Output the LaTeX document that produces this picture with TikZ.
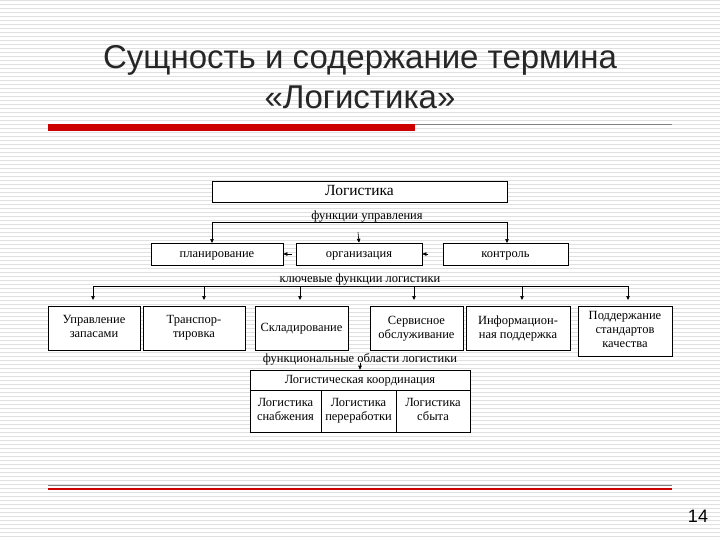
\documentclass[tikz,border=0pt]{standalone}
\usepackage{fontspec}
\setmainfont{Liberation Serif}
\newfontfamily\titlefont{Liberation Sans}
\usetikzlibrary{arrows.meta}
\begin{document}
\begin{tikzpicture}[x=1pt,y=-1pt,
  bx/.style={draw,fill=white,line width=0.6pt,inner sep=0pt},
  txt/.style={align=center,inner sep=0pt,yshift=-1pt,font=\fontsize{12.5}{14}\selectfont,execute at begin node=\strut,execute at end node=\strut},
  lbl/.style={font=\fontsize{12.5}{13}\selectfont,inner sep=1pt,yshift=-2pt},
  ar/.style={-{Triangle[length=4pt,width=3.5pt]},line width=0.6pt}]
\useasboundingbox (0,0) rectangle (720,540);
\fill[white] (0,0) rectangle (720,540);
\foreach \y in {0,4,...,540} \draw[black!12,line width=0.5pt] (0,\y) -- (720,\y);
\node[font=\titlefont\fontsize{33}{40}\selectfont,align=center,text=black!85] (title) at (360,77) {Сущность и содержание термина\\«Логистика»};
\draw[gray,line width=0.7pt] (48,124) -- (672,124);
\fill[red!80!black] (48,124) rectangle (415,131);
\draw[gray,line width=0.7pt] (48,485) -- (672,485);
\draw[red!80!black,line width=1.2pt] (48,489) -- (672,489);
\node[font=\titlefont\fontsize{18}{20}\selectfont] (pg) at (698,516) {14};

\node[bx,minimum width=295,minimum height=21] (log) at (359.5,191.5) {};
\node[txt,font=\fontsize{15.5}{16}\selectfont] at (log) {Логистика};
\node[lbl] (fu) at (367,215) {функции управления};
\node[bx,minimum width=132,minimum height=22] (plan) at (217,254) {};
\node[txt] at (plan) {планирование};
\node[bx,minimum width=126,minimum height=22] (org) at (359,254) {};
\node[txt] at (org) {организация};
\node[bx,minimum width=125,minimum height=22] (kon) at (505.5,254) {};
\node[txt] at (kon) {контроль};
\coordinate (l1) at (212,222); \coordinate (r1) at (507,222);
\draw[line width=0.6pt] (l1) -- (r1);
\draw[ar] (l1) -- (212,243);
\draw[ar] (r1) -- (507,243);
\coordinate (m1) at (358,232);
\draw[ar] (m1) -- (org.north);
\coordinate (a1) at (292,254); \coordinate (a2) at (428,254);
\draw[ar] (a1) -- (plan.east);
\draw[ar] (a2) -- (org.east);

\node[lbl] (kf) at (360,278) {ключевые функции логистики};
\node[bx,minimum width=92,minimum height=44] (b1) at (94,328) {};
\node[txt] at (b1) {Управление\\запасами};
\node[bx,minimum width=102,minimum height=44] (b2) at (194,328) {};
\node[txt] at (b2) {Транспор-\\тировка};
\node[bx,minimum width=93,minimum height=44] (b3) at (301.5,328) {};
\node[txt] at (b3) {Складирование};
\node[bx,minimum width=93,minimum height=44] (b4) at (416.5,328) {};
\node[txt] at (b4) {Сервисное\\обслуживание};
\node[bx,minimum width=104,minimum height=44] (b5) at (518,328) {};
\node[txt] at (b5) {Информацион-\\ная поддержка};
\node[bx,minimum width=94,minimum height=50] (b6) at (625,331) {};
\node[txt] at (b6) {Поддержание\\стандартов\\качества};
\coordinate (h1) at (93,286); \coordinate (h2) at (628,286);
\draw[line width=0.6pt] (h1) -- (h2);
\foreach \x in {93,204,300,414,522,628} \draw[ar] (\x,286) -- (\x,300);

\node[lbl] (fo) at (360,357) {функциональные области логистики};
\node[bx,minimum width=220,minimum height=20] (lk) at (360,380) {};
\node[txt] at (lk) {Логистическая координация};
\node[bx,minimum width=71,minimum height=42] (c1) at (285.5,411) {};
\node[txt] at (c1) {Логистика\\снабжения};
\node[bx,minimum width=75,minimum height=42] (c2) at (358.5,411) {};
\node[txt] at (c2) {Логистика\\переработки};
\node[bx,minimum width=74,minimum height=42] (c3) at (433,411) {};
\node[txt] at (c3) {Логистика\\сбыта};
\coordinate (fa) at (360,363);
\draw[ar] (fa) -- (lk.north);
\end{tikzpicture}
\end{document}
